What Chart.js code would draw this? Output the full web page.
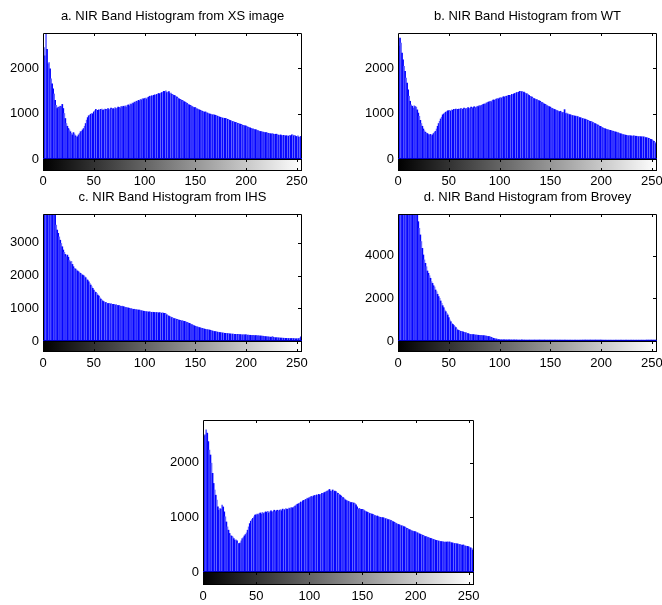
<!DOCTYPE html>
<html>
<head>
<meta charset="utf-8">
<script src="https://cdn.jsdelivr.net/npm/chart.js@4.4.0/dist/chart.umd.min.js"></script>
<style>
  html, body { margin: 0; padding: 0; background: #fff; width: 662px; height: 605px; overflow: hidden; }
  #wrap { position: relative; width: 662px; height: 605px; overflow: hidden; }
  canvas { position: absolute; }
</style>
</head>
<body>
<div id="wrap">
  <canvas id="histA" width="340" height="190" style="left:0px;top:0px"></canvas>
  <canvas id="histB" width="340" height="190" style="left:355px;top:0px"></canvas>
  <canvas id="histC" width="340" height="191" style="left:0px;top:181px"></canvas>
  <canvas id="histD" width="340" height="191" style="left:355px;top:181px"></canvas>
  <canvas id="histE" width="352" height="203" style="left:160px;top:400px"></canvas>
</div>
<script>
// grey levels 0..255
const bins = Array.from({ length: 256 }, (_, i) => i);
const xTicks = [0, 50, 100, 150, 200, 250];

const titleA = "a. NIR Band Histogram from XS image";
const titleB = "b. NIR Band Histogram from WT";
const titleC = "c. NIR Band Histogram from IHS";
const titleD = "d. NIR Band Histogram from Brovey";

const yTicksA = [0, 1000, 2000];
const yTicksB = [0, 1000, 2000];
const yTicksC = [0, 1000, 2000, 3000];
const yTicksD = [0, 2000, 4000];
const yTicksE = [0, 1000, 2000];

const countsXS = [
  1400, 2450, 2270, 2740, 2410, 2090, 2120, 1980, 1760, 1650,
  1540, 1430, 1290, 1180, 1110, 1140, 1130, 1160, 1150, 1200,
  1110, 1000, 890, 780, 720, 670, 640, 600, 565, 530,
  580, 550, 510, 480, 490, 530, 560, 600, 610, 640,
  670, 720, 780, 855, 910, 950, 965, 985, 1000, 990,
  1035, 1060, 1090, 1050, 1070, 1080, 1060, 1090, 1100, 1070,
  1080, 1100, 1090, 1060, 1110, 1080, 1100, 1120, 1090, 1110,
  1100, 1130, 1110, 1120, 1140, 1130, 1110, 1150, 1140, 1160,
  1150, 1170, 1145, 1180, 1190, 1170, 1210, 1200, 1230, 1220,
  1250, 1240, 1270, 1260, 1290, 1280, 1310, 1300, 1325, 1320,
  1330, 1340, 1320, 1350, 1360, 1380, 1370, 1390, 1380, 1400,
  1410, 1400, 1420, 1430, 1440, 1430, 1450, 1460, 1470, 1490,
  1480, 1500, 1460, 1470, 1480, 1440, 1450, 1420, 1410, 1400,
  1390, 1370, 1360, 1340, 1325, 1310, 1300, 1290, 1280, 1260,
  1250, 1240, 1220, 1200, 1190, 1180, 1170, 1150, 1140, 1130,
  1130, 1110, 1100, 1090, 1080, 1070, 1060, 1050, 1040, 1030,
  1035, 1020, 1010, 1000, 990, 985, 980, 970, 975, 965,
  960, 950, 940, 935, 920, 915, 905, 900, 890, 895,
  890, 875, 870, 860, 850, 840, 830, 820, 815, 805,
  800, 790, 785, 775, 765, 760, 750, 740, 735, 730,
  725, 715, 700, 690, 685, 670, 665, 660, 650, 645,
  640, 630, 620, 610, 605, 600, 595, 590, 585, 580,
  580, 570, 565, 560, 555, 550, 560, 545, 540, 545,
  545, 530, 525, 520, 530, 515, 510, 520, 505, 510,
  510, 500, 505, 520, 510, 530, 525, 510, 520, 500,
  490, 510, 480, 470, 500, 420
];

const countsWT = [
  2180, 2480, 2660, 2550, 2330, 2180, 2040, 1930, 1780, 1670,
  1520, 1380, 1270, 1190, 1160, 1120, 1170, 1150, 1140, 1080,
  1010, 940, 850, 780, 720, 660, 620, 590, 570, 560,
  535, 530, 540, 510, 530, 560, 590, 610, 660, 720,
  780, 830, 880, 920, 970, 990, 1010, 1030, 1040, 1060,
  1060, 1070, 1050, 1080, 1070, 1090, 1060, 1100, 1080, 1090,
  1100, 1080, 1110, 1090, 1100, 1120, 1090, 1110, 1100, 1130,
  1110, 1120, 1140, 1110, 1130, 1150, 1120, 1140, 1160, 1150,
  1170, 1160, 1180, 1190, 1200, 1210, 1200, 1230, 1240, 1250,
  1260, 1270, 1260, 1290, 1300, 1290, 1310, 1320, 1330, 1320,
  1340, 1350, 1340, 1360, 1370, 1360, 1380, 1380, 1390, 1400,
  1400, 1390, 1420, 1410, 1430, 1440, 1450, 1460, 1465, 1470,
  1490, 1470, 1480, 1460, 1470, 1450, 1440, 1435, 1420, 1400,
  1380, 1370, 1360, 1340, 1330, 1320, 1310, 1300, 1290, 1280,
  1270, 1250, 1240, 1230, 1210, 1200, 1190, 1170, 1160, 1150,
  1140, 1120, 1110, 1100, 1090, 1080, 1070, 1060, 1050, 1040,
  1050, 1030, 1020, 1025, 1085, 1000, 1010, 990, 985, 975,
  970, 960, 955, 950, 945, 940, 940, 930, 920, 910,
  905, 895, 890, 880, 875, 865, 860, 850, 840, 830,
  825, 815, 800, 790, 780, 770, 755, 745, 730, 720,
  705, 695, 680, 670, 665, 655, 650, 640, 635, 630,
  620, 615, 610, 600, 595, 590, 580, 575, 565, 555,
  550, 540, 535, 530, 525, 520, 515, 510, 515, 510,
  505, 500, 510, 505, 500, 500, 495, 490, 495, 490,
  485, 490, 485, 480, 470, 465, 460, 455, 440, 430,
  420, 405, 390, 365, 340, 315
];

const countsIHS = [
  1860, 5600, 5800, 5500, 5300, 5100, 4900, 4700, 4500, 4300,
  4150, 4000, 3920, 3540, 3390, 3290, 3180, 3080, 2980, 2880,
  2780, 2710, 2645, 2575, 2625, 2560, 2470, 2420, 2430, 2340,
  2270, 2220, 2200, 2170, 2140, 2115, 2085, 2065, 2035, 2015,
  1995, 1965, 1935, 1890, 1860, 1810, 1760, 1710, 1660, 1610,
  1555, 1505, 1485, 1455, 1405, 1375, 1320, 1280, 1250, 1220,
  1200, 1180, 1170, 1150, 1140, 1145, 1130, 1135, 1120, 1120,
  1110, 1100, 1105, 1090, 1085, 1080, 1070, 1060, 1065, 1050,
  1040, 1030, 1020, 1015, 1010, 1000, 990, 985, 975, 965,
  970, 960, 955, 950, 945, 945, 930, 925, 920, 910,
  905, 900, 895, 890, 885, 890, 880, 875, 880, 875,
  870, 865, 870, 865, 860, 865, 855, 850, 860, 845,
  845, 830, 800, 780, 760, 740, 730, 715, 700, 685,
  675, 670, 660, 650, 640, 630, 620, 615, 610, 600,
  590, 580, 565, 555, 540, 525, 510, 495, 480, 465,
  450, 440, 430, 420, 410, 400, 390, 385, 375, 365,
  355, 350, 345, 340, 335, 325, 315, 305, 295, 290,
  285, 280, 270, 265, 260, 255, 250, 245, 240, 235,
  235, 230, 225, 220, 220, 215, 210, 210, 205, 205,
  205, 200, 200, 195, 195, 190, 190, 185, 185, 185,
  185, 180, 180, 175, 175, 170, 170, 170, 165, 165,
  165, 160, 160, 155, 155, 150, 150, 145, 140, 135,
  130, 130, 125, 120, 118, 115, 140, 110, 105, 100,
  100, 98, 95, 92, 90, 88, 86, 85, 82, 80,
  80, 78, 76, 75, 74, 73, 72, 72, 70, 70,
  68, 70, 72, 90, 130, 120
];

const countsBrovey = [
  8200, 9500, 9800, 9600, 9300, 9000, 8700, 8500, 8200, 8000,
  7800, 7600, 7400, 7200, 7000, 6800, 6600, 6400, 6200, 6000,
  5590, 5280, 4970, 4660, 4340, 4030, 3800, 3640, 3480, 3280,
  3170, 3060, 2940, 2780, 2700, 2590, 2530, 2390, 2310, 2190,
  2080, 2000, 1875, 1765, 1655, 1560, 1450, 1375, 1300, 1220,
  1095, 985, 905, 830, 780, 720, 670, 625, 560, 515,
  485, 470, 455, 440, 425, 410, 395, 380, 360, 345,
  330, 310, 305, 300, 295, 290, 285, 280, 275, 270,
  265, 260, 258, 255, 250, 245, 240, 230, 220, 210,
  205, 190, 170, 150, 125, 110, 100, 95, 80, 65,
  60, 58, 56, 55, 55, 54, 54, 53, 53, 52,
  52, 50, 51, 49, 50, 48, 49, 50, 48, 47,
  48, 47, 49, 47, 46, 48, 46, 47, 45, 46,
  46, 45, 47, 45, 44, 46, 45, 44, 45, 44,
  44, 45, 43, 44, 45, 43, 44, 43, 44, 42,
  43, 44, 42, 43, 42, 44, 42, 43, 41, 42,
  42, 43, 41, 42, 43, 41, 42, 41, 42, 40,
  41, 42, 40, 41, 42, 40, 41, 40, 41, 40,
  40, 41, 40, 42, 40, 41, 39, 40, 41, 40,
  39, 40, 41, 39, 40, 39, 41, 40, 39, 40,
  40, 39, 40, 41, 39, 40, 39, 40, 41, 39,
  40, 39, 40, 39, 41, 40, 39, 40, 39, 40,
  41, 39, 40, 39, 40, 41, 39, 40, 39, 40,
  40, 39, 41, 40, 39, 40, 39, 41, 40, 39,
  40, 41, 39, 40, 39, 40, 41, 39, 40, 41,
  40, 39, 41, 40, 42, 45
];

const countsFused = [
  2480, 2480, 2510, 2600, 2540, 2385, 2230, 2140, 1990, 1805,
  1620, 1500, 1405, 1315, 1190, 1130, 1160, 1150, 1225, 1190,
  1100, 1010, 915, 825, 765, 705, 670, 655, 640, 610,
  580, 590, 570, 520, 520, 530, 570, 610, 630, 660,
  685, 715, 765, 825, 885, 930, 960, 980, 1010, 1040,
  1045, 1060, 1050, 1070, 1080, 1060, 1090, 1070, 1085, 1100,
  1090, 1110, 1080, 1100, 1120, 1090, 1110, 1130, 1100, 1120,
  1130, 1110, 1130, 1140, 1120, 1150, 1130, 1140, 1160, 1145,
  1150, 1170, 1160, 1180, 1170, 1180, 1200, 1210, 1230, 1240,
  1250, 1260, 1280, 1270, 1300, 1310, 1320, 1330, 1350, 1340,
  1360, 1370, 1380, 1370, 1390, 1400, 1390, 1410, 1400, 1420,
  1405, 1420, 1440, 1430, 1450, 1460, 1470, 1480, 1490, 1510,
  1480, 1470, 1500, 1460, 1480, 1470, 1450, 1440, 1420, 1405,
  1390, 1370, 1360, 1340, 1320, 1305, 1300, 1290, 1280, 1270,
  1270, 1265, 1260, 1250, 1230, 1190, 1145, 1160, 1150, 1145,
  1145, 1140, 1120, 1110, 1100, 1090, 1080, 1070, 1065, 1060,
  1050, 1040, 1030, 1020, 1025, 1010, 1005, 1000, 995, 995,
  990, 980, 975, 970, 960, 955, 950, 940, 930, 920,
  910, 900, 885, 875, 870, 860, 850, 845, 840, 830,
  820, 810, 800, 790, 775, 770, 760, 750, 745, 740,
  735, 725, 715, 705, 695, 685, 680, 670, 660, 650,
  645, 640, 630, 625, 615, 610, 600, 595, 590, 580,
  575, 570, 565, 560, 555, 550, 555, 545, 550, 545,
  550, 545, 550, 540, 535, 530, 525, 520, 520, 515,
  510, 505, 500, 495, 490, 495, 480, 475, 470, 470,
  460, 450, 440, 430, 400, 380
];

// frame, inward ticks and the grey colour bar under each histogram
const matlabFrame = {
  id: "matlabFrame",
  afterDatasetsDraw(chart, args, opts) {
    const { ctx, chartArea, scales } = chart;
    const x = scales.x, y = scales.y;
    const l = Math.round(chartArea.left), r = Math.round(chartArea.right);
    const t = Math.round(chartArea.top), b = Math.round(chartArea.bottom);
    const cbTop = b, cbBot = b + opts.barHeight;
    ctx.save();
    const grad = ctx.createLinearGradient(x.getPixelForValue(0), 0, x.getPixelForValue(255), 0);
    grad.addColorStop(0, "#000");
    grad.addColorStop(1, "#fff");
    ctx.fillStyle = grad;
    ctx.fillRect(l, cbTop, r - l, cbBot - cbTop);
    ctx.strokeStyle = "#000";
    ctx.lineWidth = 1;
    ctx.strokeRect(l + 0.5, cbTop + 0.5, r - l - 1, cbBot - cbTop - 1);
    ctx.beginPath();
    ctx.moveTo(l + 0.5, b);
    ctx.lineTo(l + 0.5, t + 0.5);
    ctx.lineTo(r - 0.5, t + 0.5);
    ctx.lineTo(r - 0.5, b);
    ctx.stroke();
    // the zero line under the bars shows dark blue
    ctx.strokeStyle = "#0000c8";
    ctx.beginPath();
    ctx.moveTo(l, b - 0.5);
    ctx.lineTo(r, b - 0.5);
    ctx.stroke();
    ctx.strokeStyle = "#000";
    ctx.beginPath();
    opts.xTicks.forEach(v => {
      if (v <= 0) return;
      const px = Math.round(x.getPixelForValue(v)) + 0.5;
      ctx.moveTo(px, t); ctx.lineTo(px, t + 3);
      ctx.moveTo(px, cbTop); ctx.lineTo(px, cbTop + 3);
      ctx.moveTo(px, cbBot); ctx.lineTo(px, cbBot - 3);
    });
    opts.yTicks.forEach(v => {
      if (v <= 0) return;
      const py = Math.round(y.getPixelForValue(v)) + 0.5;
      ctx.moveTo(r, py); ctx.lineTo(r - 4, py);
    });
    ctx.stroke();
    ctx.restore();
  }
};

function makeHist(id, title, counts, yMax, yTicks, barHeight, yAxisWidth) {
  const colors = bins.map(i => (i % 5 === 1 || i % 5 === 3 ? "#6464ff" : "#0505ff"));
  return new Chart(document.getElementById(id), {
    type: "bar",
    data: {
      labels: bins,
      datasets: [{
        data: counts,
        backgroundColor: colors,
        borderWidth: 0,
        barPercentage: 1,
        categoryPercentage: 1
      }]
    },
    options: {
      responsive: false,
      animation: false,
      layout: { padding: { top: title ? 0 : 20, right: 38, left: 0, bottom: 0 } },
      plugins: {
        legend: { display: false },
        tooltip: { enabled: false },
        title: {
          display: !!title,
          text: title,
          fullSize: false,
          color: "#000",
          font: { family: "'Liberation Sans', Arial, sans-serif", size: 13, weight: "normal" },
          padding: { top: 9, bottom: 8.4 }
        },
        matlabFrame: { xTicks: xTicks, yTicks: yTicks, barHeight: barHeight }
      },
      scales: {
        x: {
          type: "linear",
          min: 0,
          max: 255,
          offset: false,
          grid: { display: false, drawTicks: false },
          border: { display: false },
          ticks: {
            padding: title ? 15 : 17,
            autoSkip: false,
            maxRotation: 0,
            color: "#000",
            font: { family: "'Liberation Sans', Arial, sans-serif", size: 13 },
            callback: v => String(v)
          },
          afterBuildTicks: s => { s.ticks = xTicks.map(v => ({ value: v })); },
          afterFit: s => { s.height = 31; }
        },
        y: {
          min: 0,
          max: yMax,
          grid: { display: false, drawTicks: false },
          border: { display: false },
          ticks: {
            padding: 4,
            color: "#000",
            font: { family: "'Liberation Sans', Arial, sans-serif", size: 13 },
            callback: v => String(v)
          },
          afterBuildTicks: s => { s.ticks = yTicks.map(v => ({ value: v })); },
          afterFit: s => { s.width = yAxisWidth; }
        }
      }
    },
    plugins: [matlabFrame]
  });
}

makeHist("histA", titleA, countsXS, 2770, yTicksA, 12, 43);
makeHist("histB", titleB, countsWT, 2770, yTicksB, 12, 43);
makeHist("histC", titleC, countsIHS, 3880, yTicksC, 11, 43);
makeHist("histD", titleD, countsBrovey, 5950, yTicksD, 11, 43);
makeHist("histE", "", countsFused, 2780, yTicksE, 13, 43);
</script>
</body>
</html>
